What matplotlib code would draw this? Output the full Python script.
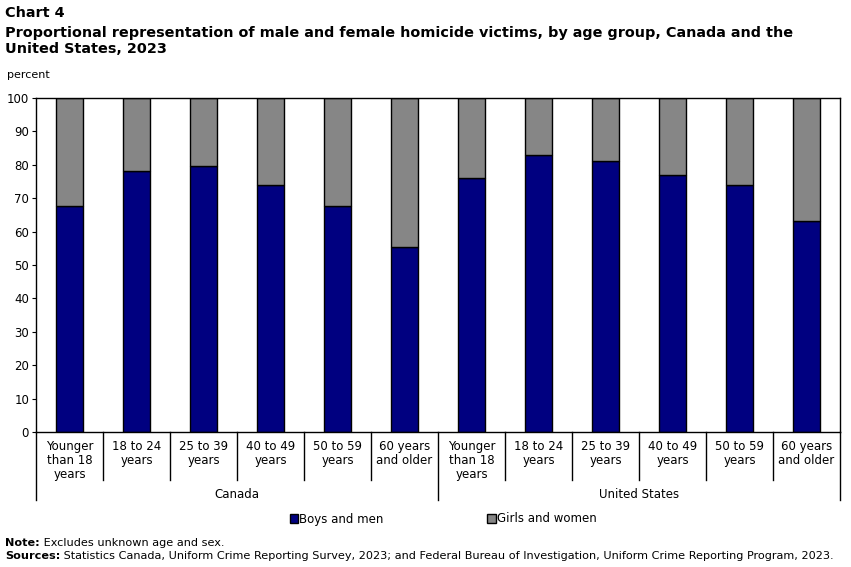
import matplotlib
matplotlib.use("Agg")
import matplotlib.pyplot as plt
import numpy as np

# data
ages = ["Younger\nthan 18\nyears", "18 to 24\nyears", "25 to 39\nyears",
        "40 to 49\nyears", "50 to 59\nyears", "60 years\nand older"]
countries = ["Canada", "United States"]
canada_male = [67.6, 78.2, 79.6, 73.9, 67.6, 55.4]
us_male = [76.0, 82.9, 81.2, 76.9, 73.9, 63.1]

male = np.array(canada_male + us_male)
female = 100 - male
labels = ages + ages

NAVY = "#000080"
GREY = "#868686"

plt.rcParams["font.family"] = "DejaVu Sans"

W, H = 851, 567
fig = plt.figure(figsize=(W / 100, H / 100), dpi=100)
ax = fig.add_axes([36 / W, 1 - 432 / H, 804 / W, 334 / H])

x = np.arange(len(male))
ax.bar(x, male, width=0.4, color=NAVY, edgecolor="black", linewidth=1, label="Boys and men")
ax.bar(x, female, width=0.4, bottom=male, color=GREY, edgecolor="black", linewidth=1, label="Girls and women")

ax.set_xlim(-0.5, 11.5)
ax.set_ylim(0, 100)
ax.set_yticks(range(0, 101, 10))
ax.tick_params(axis="y", labelsize=8.5, length=3, pad=2)
ax.set_xticks(x)
ax.set_xticklabels(labels, fontsize=8.5, linespacing=1.1)
ax.tick_params(axis="x", length=0, pad=6)
for s in ax.spines.values():
    s.set_linewidth(1)

# category separators below the axis
trans = ax.get_xaxis_transform()
for b in np.arange(0.5, 11, 1):
    if b == 5.5:
        continue
    ax.plot([b, b], [0, -0.144], color="black", lw=1, transform=trans, clip_on=False)
for b in [-0.5, 5.5, 11.5]:
    ax.plot([b, b], [0, -0.204], color="black", lw=1, transform=trans, clip_on=False)
for i, c in enumerate(countries):
    ax.text(2.5 + 6 * i, -0.186, c, transform=trans, ha="center", va="center", fontsize=8.5)

fig.legend(loc="center", bbox_to_anchor=(443 / W, 1 - 519 / H), ncol=2, frameon=False,
           fontsize=8.5, handlelength=0.7, handleheight=0.7, handletextpad=0.1,
           columnspacing=8.8)

fig.text(5 / W, 1 - 13 / H, "Chart 4", fontsize=10.4, fontweight="bold", va="center")
fig.text(5 / W, 1 - 41 / H,
         "Proportional representation of male and female homicide victims, by age group, Canada and the\nUnited States, 2023",
         fontsize=10.4, fontweight="bold", va="center", linespacing=1.15)
fig.text(7 / W, 1 - 75 / H, "percent", fontsize=8, va="center")

r = fig.canvas.get_renderer()
for y, head, body in [(543, "Note:", " Excludes unknown age and sex."),
                      (556, "Sources:", " Statistics Canada, Uniform Crime Reporting Survey, 2023; and Federal Bureau of Investigation, Uniform Crime Reporting Program, 2023.")]:
    t = fig.text(5 / W, 1 - y / H, head, fontsize=8.15, fontweight="bold", va="center")
    bb = t.get_window_extent(renderer=r)
    fig.text(bb.x1 / W, 1 - y / H, body, fontsize=8.15, va="center")

fig.savefig("out.png", dpi=100)
